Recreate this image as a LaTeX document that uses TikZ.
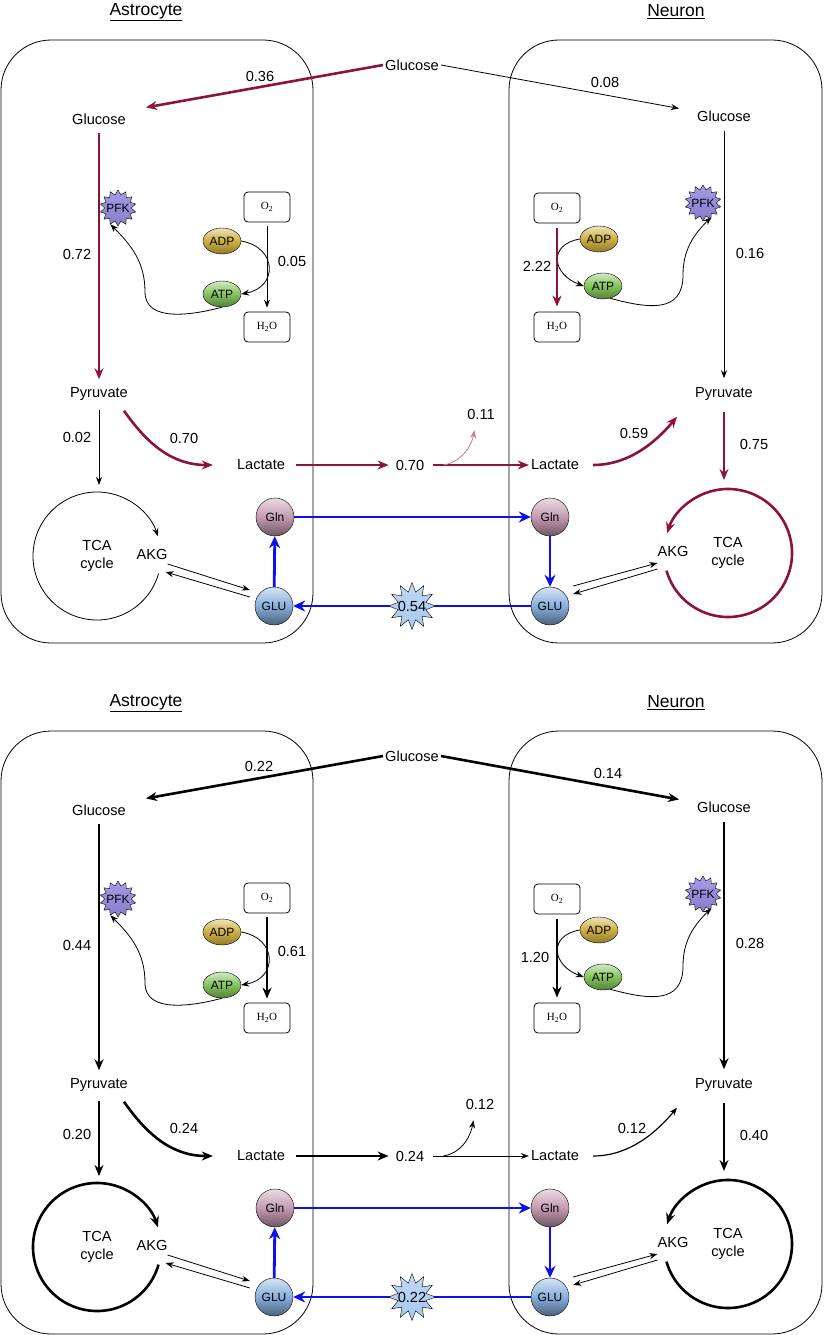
\documentclass[tikz,border=0pt]{standalone}
\usepackage{fontspec}
\setmainfont{Liberation Sans}
\newfontfamily\chemfont{Liberation Serif}
\usepackage{tikz}
\usetikzlibrary{arrows.meta,shapes.geometric,positioning,calc}

\definecolor{fluxred}{RGB}{140,20,55}
\definecolor{glublue}{RGB}{15,15,235}
\definecolor{adpgold}{RGB}{205,175,65}
\definecolor{atpgreen}{RGB}{130,195,90}
\definecolor{glnpink}{RGB}{195,155,175}
\definecolor{glusky}{RGB}{135,175,220}
\definecolor{pfkviolet}{RGB}{150,138,225}
\definecolor{burstblue}{RGB}{165,200,240}

\tikzset{>=Stealth,
  txt/.style={font=\fontsize{14.6pt}{18pt}\selectfont, inner sep=2pt},
  ttl/.style={font=\fontsize{17.5pt}{20pt}\selectfont, inner sep=2pt},
  wall/.style={rounded corners=50pt, line width=0.8pt},
  chem/.style={draw, line width=0.8pt, rounded corners=4pt, minimum width=46pt, minimum height=30pt, font=\chemfont\fontsize{11pt}{13pt}\selectfont},
  coen/.style={ellipse, draw, minimum width=38pt, minimum height=26pt, inner sep=0pt, font=\fontsize{12pt}{14pt}\selectfont},
  adp/.style={coen, top color=adpgold!35, bottom color=adpgold!70!black, middle color=adpgold},
  atp/.style={coen, top color=atpgreen!35, bottom color=atpgreen!65!black, middle color=atpgreen},
  amino/.style={circle, draw, minimum size=38pt, inner sep=0pt, font=\fontsize{12pt}{14pt}\selectfont},
  gln/.style={amino, top color=glnpink!35, bottom color=glnpink!55!black, middle color=glnpink},
  glu/.style={amino, top color=glusky!35, bottom color=glusky!55!black, middle color=glusky},
  enz/.style={star, star points=14, star point ratio=1.35, minimum size=36pt, inner sep=0pt, draw, top color=pfkviolet!85, bottom color=pfkviolet!90!black},
  enztxt/.style={font=\fontsize{12pt}{14pt}\selectfont, inner sep=0pt},
  burst/.style={star, star points=12, star point ratio=1.65, minimum size=47pt, inner sep=0pt, draw, top color=burstblue!70, bottom color=burstblue},
  tca/.style={circle, minimum size=128pt, inner sep=0pt, outer sep=0pt, align=center, font=\fontsize{14.6pt}{18pt}\selectfont},
  weak/.style={-{Stealth[length=8pt,width=6pt]}, line width=0.8pt},
  strong/.style={-{Stealth[length=11pt,width=9pt]}, line width=2.6pt},
  redflow/.style={strong, fluxred},
  fadeflow/.style={weak, fluxred!55},
  glut/.style={-{Stealth[length=12pt,width=11pt]}, line width=2.8pt, glublue},
  trim/.style={shorten <=#1, shorten >=#1}
}

\newcommand{\cellpair}[2]{%
  \node[ttl] (ttlA) at (146,-12) {\underline{Astrocyte}};
  \node[ttl] (ttlN) at (676,-12) {\underline{Neuron}};
  \draw[wall] (1,-40) rectangle (313,-643);
  \draw[wall] (509,-40) rectangle (822,-643);
  \node[txt] (glcX) at (412,-65) {Glucose};
  \node[txt] (glcA) at (99,-119) {Glucose};
  \node[txt] (glcN) at (724,-116) {Glucose};
  \node[txt] (pyrA) at (99,-394) {Pyruvate};
  \node[txt] (pyrN) at (724,-394) {Pyruvate};
  \node[txt] (lacA) at (261,-465) {Lactate};
  \node[txt] (mid) at (410,-465) {#1};
  \node[txt] (lacN) at (555,-465) {Lactate};
  \node[enz, label={[enztxt]center:PFK}] (pfkA) at (118,-208) {};
  \node[enz, label={[enztxt]center:PFK}] (pfkN) at (703,-203) {};
  \node[chem] (o2A) at (267,-207) {O\textsubscript{2}};
  \node[chem] (h2oA) at (267,-327) {H\textsubscript{2}O};
  \node[chem] (o2N) at (557,-208) {O\textsubscript{2}};
  \node[chem] (h2oN) at (557,-327) {H\textsubscript{2}O};
  \node[adp] (adpA) at (222,-241) {ADP};
  \node[atp] (atpA) at (222,-294) {ATP};
  \node[adp] (adpN) at (599,-239) {ADP};
  \node[atp] (atpN) at (603,-286) {ATP};
  \node[tca] (tcaA) at (97,-556) {TCA\\cycle};
  \node[tca] (tcaN) at (728,-553) {TCA\\cycle};
  \node[txt] (akgA) at (152,-554) {AKG};
  \node[txt] (akgN) at (673,-551) {AKG};
  \node[gln] (glnA) at (275,-517) {Gln};
  \node[glu] (gluA) at (274,-606) {GLU};
  \node[gln] (glnN) at (550,-517) {Gln};
  \node[glu] (gluN) at (550,-606) {GLU};
  \draw[weak] (adpA.east) to[out=-10,in=10,looseness=1.8] (atpA.east);
  \draw[weak] (adpN.west) to[out=190,in=160,looseness=1.8] (atpN.west);
  \draw[weak] (atpA.south) to[out=195,in=-90] (145,-292) to[out=90,in=-45] (pfkA.-115);
  \draw[weak] (atpN.-60) to[out=-15,in=-90,looseness=1.3] (683,-275) to[out=90,in=-135] (pfkN.-60);
  \draw[weak] ([shift={(-2pt,-10pt)}]akgA.east) -- ([shift={(-5pt,16pt)}]gluA.west);
  \draw[weak] ([shift={(-5pt,9pt)}]gluA.west) -- ([shift={(-4pt,-18pt)}]akgA.east);
  \draw[weak] ([shift={(4pt,20pt)}]gluN.east) -- ([shift={(2pt,-12pt)}]akgN.west);
  \draw[weak] ([shift={(2pt,-18pt)}]akgN.west) -- ([shift={(4pt,12pt)}]gluN.east);
  \draw[glut] (gluA) -- (glnA);
  \draw[glut] (glnA) -- (glnN);
  \draw[glut] (glnN) -- (gluN);
  \draw[glut] (gluN) -- (gluA);
  \node[burst, label={[txt, inner sep=0pt]center:#2}] (xfer) at (412,-606) {};
}

\begin{document}
\begin{tikzpicture}[x=1pt,y=1pt]
\useasboundingbox (0,0) rectangle (827,-1335);

\begin{scope}[name prefix=t-]
  \cellpair{0.70}{0.54}
  \node[txt] (vGA) at (260,-76) {0.36};
  \node[txt] (vGN) at (605,-82) {0.08};
  \node[txt] (vGlyA) at (77,-254) {0.72};
  \node[txt] (vOxA) at (292,-261) {0.05};
  \node[txt] (vOxN) at (537,-266) {2.22};
  \node[txt] (vGlyN) at (750,-253) {0.16};
  \node[txt] (vTcaA) at (77,-437) {0.02};
  \node[txt] (vLacA) at (184,-438) {0.70};
  \node[txt] (vLeak) at (481,-414) {0.11};
  \node[txt] (vLacN) at (634,-433) {0.59};
  \node[txt] (vTcaN) at (754,-444) {0.75};
  \draw[redflow] (glcX.west) -- ([shift={(18pt,4pt)}]glcA.north east);
  \draw[weak] (glcX.east) -- ([xshift=-16pt]glcN.north west);
  \draw[redflow, trim=6pt] (glcA.south) -- (pyrA.north);
  \draw[weak, trim=4pt] (o2A.south) -- (h2oA.north);
  \draw[redflow, trim=5pt] (o2N.south) -- (h2oN.north);
  \draw[weak, trim=7pt] (glcN.south) -- (pyrN.north);
  \draw[weak, trim=7pt] (pyrA.south) -- (pyrA.south |- tcaA.north);
  \draw[redflow] ([shift={(-6pt,-8pt)}]pyrA.south east) to[out=-55,in=180] ([xshift=-22pt]lacA.west);
  \draw[redflow, shorten <=9pt, shorten >=5pt] (lacA) -- (mid);
  \draw[redflow, shorten <=7pt] (mid) -- (lacN);
  \draw[fadeflow, shorten >=9pt] ([xshift=17pt]mid.east) to[out=10,in=-100] ([xshift=-5pt]vLeak.south);
  \draw[redflow, shorten <=12pt] (lacN.east) to[out=0,in=-130] ([shift={(-16pt,-14pt)}]pyrN.south west);
  \draw[redflow, trim=9pt] (pyrN.south) -- (pyrN.south |- tcaN.north);
  \draw[weak] (tcaA.-16) arc[start angle=-16, end angle=-342, radius=64pt];
  \draw[redflow] (tcaN.196) arc[start angle=196, end angle=522, radius=64pt];
\end{scope}

\begin{scope}[yshift=-691pt, name prefix=b-]
  \cellpair{0.24}{0.22}
  \node[txt] (vGA) at (259,-75) {0.22};
  \node[txt] (vGN) at (608,-82) {0.14};
  \node[txt] (vGlyA) at (77,-254) {0.44};
  \node[txt] (vOxA) at (292,-260) {0.61};
  \node[txt] (vOxN) at (535,-266) {1.20};
  \node[txt] (vGlyN) at (750,-252) {0.28};
  \node[txt] (vTcaA) at (77,-443) {0.20};
  \node[txt] (vLacA) at (184,-437) {0.24};
  \node[txt] (vLeak) at (480,-413) {0.12};
  \node[txt] (vLacN) at (632,-437) {0.12};
  \node[txt] (vTcaN) at (754,-444) {0.40};
  \draw[strong] (glcX.west) -- ([shift={(18pt,4pt)}]glcA.north east);
  \draw[strong] (glcX.east) -- ([xshift=-16pt]glcN.north west);
  \draw[strong, trim=6pt] (glcA.south) -- (pyrA.north);
  \draw[strong, trim=4pt] (o2A.south) -- (h2oA.north);
  \draw[strong, trim=5pt] (o2N.south) -- (h2oN.north);
  \draw[strong, trim=7pt] (glcN.south) -- (pyrN.north);
  \draw[strong, trim=7pt] (pyrA.south) -- (pyrA.south |- tcaA.north);
  \draw[strong] ([shift={(-6pt,-8pt)}]pyrA.south east) to[out=-55,in=180] ([xshift=-22pt]lacA.west);
  \draw[strong, shorten <=9pt, shorten >=5pt] (lacA) -- (mid);
  \draw[weak, shorten <=7pt] (mid) -- (lacN);
  \draw[weak, shorten >=9pt] ([xshift=17pt]mid.east) to[out=10,in=-100] ([xshift=-5pt]vLeak.south);
  \draw[weak, line width=1.2pt, shorten <=12pt] (lacN.east) to[out=0,in=-130] ([shift={(-16pt,-14pt)}]pyrN.south west);
  \draw[strong, trim=9pt] (pyrN.south) -- (pyrN.south |- tcaN.north);
  \draw[strong] (tcaA.-16) arc[start angle=-16, end angle=-342, radius=64pt];
  \draw[strong] (tcaN.196) arc[start angle=196, end angle=522, radius=64pt];
\end{scope}
\end{tikzpicture}
\end{document}
